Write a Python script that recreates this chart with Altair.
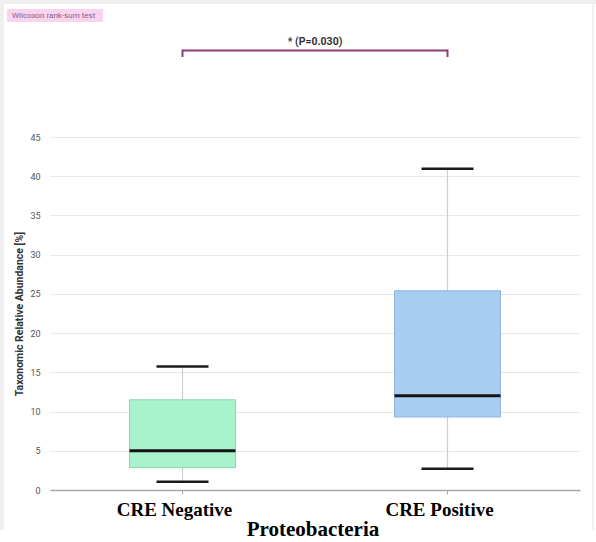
import altair as alt
import pandas as pd

# Box-plot summary per group (relative abundance, %)
groups = ["CRE Negative", "CRE Positive"]
whisker_low = [1.05, 2.7]
q1 = [2.85, 9.3]
median = [5.0, 12.0]
q3 = [11.5, 25.4]
whisker_high = [15.75, 40.95]

fills = ["#a8f3cb", "#a8cdf3"]
strokes = ["#8fd6b0", "#8fb6e0"]

y_ticks = [0, 5, 10, 15, 20, 25, 30, 35, 40, 45]

stats = pd.DataFrame({
    "group": groups,
    "low": whisker_low,
    "q1": q1,
    "median": median,
    "q3": q3,
    "high": whisker_high,
})
one = pd.DataFrame({"k": [0]})

W, H = 530, 353

x_enc = alt.X(
    "group:N",
    sort=groups,
    scale=alt.Scale(paddingInner=0, paddingOuter=0),
    axis=alt.Axis(
        title=None,
        labelAngle=0,
        labelFont="Liberation Serif",
        labelFontWeight="bold",
        labelFontSize=19,
        labelColor="#000",
        labelPadding=6,
        labelOffset=-8,
        domainColor="#a9a9a9",
        domainWidth=1.5,
        tickColor="#a9a9a9",
        tickSize=4,
        grid=False,
    ),
)

y_scale = alt.Scale(domain=[0, 45], nice=False, zero=True)
y_axis = alt.Axis(
    title="Taxonomic Relative Abundance [%]",
    values=y_ticks,
    labelOverlap=False,
    domain=False,
    ticks=False,
    grid=True,
    gridColor="#e8e8e8",
    gridWidth=1,
    labelFont="Roboto",
    labelFontSize=9,
    labelColor="#555",
    labelPadding=10,
    titleFont="Roboto",
    titleFontWeight="bold",
    titleFontSize=10.5,
    titleColor="#333",
    titlePadding=5,
)


def ypos(field):
    return alt.Y(field, scale=y_scale, axis=y_axis)


base = alt.Chart(stats)

whiskers = base.mark_rule(color="#cfcfcf", strokeWidth=1.2).encode(
    x=x_enc,
    y=ypos("low:Q"),
    y2="high:Q",
)

boxes = base.mark_bar(width=alt.RelativeBandSize(0.4), strokeWidth=1, opacity=1).encode(
    x=x_enc,
    y=ypos("q3:Q"),
    y2="q1:Q",
    fill=alt.Fill("group:N", scale=alt.Scale(domain=groups, range=fills), legend=None),
    stroke=alt.Stroke("group:N", scale=alt.Scale(domain=groups, range=strokes), legend=None),
)

cap_low = base.mark_tick(color="#1a1a1a", size=52, thickness=2.5, opacity=1).encode(
    x=x_enc, y=ypos("low:Q")
)
cap_high = base.mark_tick(color="#1a1a1a", size=52, thickness=2.5, opacity=1).encode(
    x=x_enc, y=ypos("high:Q")
)
medians = base.mark_tick(color="#141414", size=106, thickness=3, opacity=1).encode(
    x=x_enc, y=ypos("median:Q")
)

# Group-axis caption
caption = alt.Chart(one).mark_text(
    text="Proteobacteria", font="Liberation Serif", fontWeight="bold", fontSize=21,
    color="#000", align="center", baseline="alphabetic",
).encode(x=alt.value(W / 2 - 2), y=alt.value(H + 46))

# Significance bracket between the two groups
bracket_color = "#8e3f77"
bracket_h = alt.Chart(stats).mark_line(color=bracket_color, strokeWidth=2).encode(
    x=x_enc, y=alt.value(-86.5)
)
bracket_v = alt.Chart(stats).mark_rule(color=bracket_color, strokeWidth=2).encode(
    x=x_enc, y=alt.value(-87.5), y2=alt.value(-80)
)
p_label = alt.Chart(one).mark_text(
    text="* (P=0.030)", font="Roboto", fontWeight="bold", fontSize=10.5,
    color="#333", align="center", baseline="middle",
).encode(x=alt.value(W / 2), y=alt.value(-95.5))

# Test-name badge in the top-left corner
badge = alt.Chart(one).mark_rect(fill="#f9d3f0").encode(
    x=alt.value(-43), x2=alt.value(53), y=alt.value(-128), y2=alt.value(-115)
)
badge_text = alt.Chart(one).mark_text(
    text="Wilcoxon rank-sum test", font="Roboto", fontSize=8,
    color="#8b5e80", align="left", baseline="middle",
).encode(x=alt.value(-38), y=alt.value(-121.5))

# Light grey frame edges
frame_top = alt.Chart(one).mark_rect(fill="#efefef").encode(
    x=alt.value(-50), x2=alt.value(546), y=alt.value(-137), y2=alt.value(-133)
)
frame_left = alt.Chart(one).mark_rect(fill="#efefef").encode(
    x=alt.value(-50), x2=alt.value(-46), y=alt.value(-137), y2=alt.value(393)
)
frame_right = alt.Chart(one).mark_rule(color="#ececec", strokeWidth=1.5).encode(
    x=alt.value(543), y=alt.value(-133), y2=alt.value(393)
)

chart = alt.layer(
    frame_top, frame_left, frame_right,
    whiskers, boxes, cap_low, cap_high, medians,
    bracket_h, bracket_v, p_label, badge, badge_text, caption,
).properties(
    width=W,
    height=H,
    autosize=alt.AutoSizeParams(type="none"),
    padding={"left": 50, "top": 137, "right": 16, "bottom": 52},
    background="white",
).configure_view(stroke=None)

chart.save("out.html", embed_options={"renderer": "svg", "actions": False})
